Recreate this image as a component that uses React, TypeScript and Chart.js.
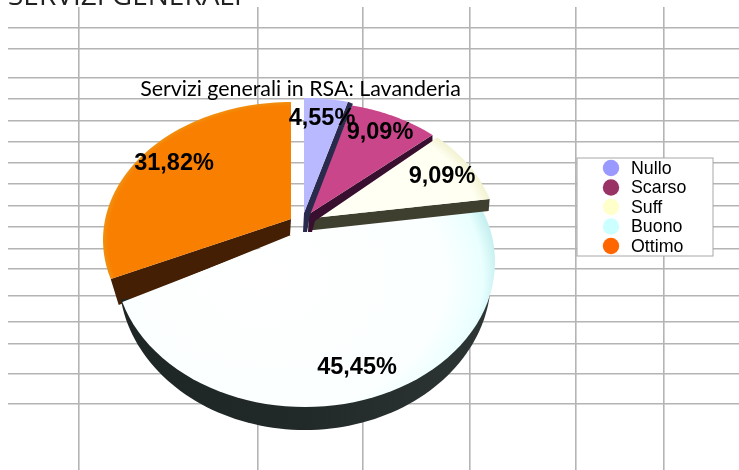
import React, { useEffect, useRef } from "react";
import { Chart, registerables } from "chart.js";

Chart.register(...registerables);

const pageHeading = "SERVIZI GENERALI";
const chartTitle = "Servizi generali in RSA: Lavanderia";
const categories = ["Nullo", "Scarso", "Suff", "Buono", "Ottimo"];
const shares = [4.55, 9.09, 9.09, 45.45, 31.82];
const legendColours = ["#9999ff", "#993366", "#ffffcc", "#ccffff", "#ff6600"];
const sheetRows = [28, 49, 78, 99, 121, 142, 163, 184, 206, 227, 249, 269, 296, 322, 344, 374, 404];
const sheetColumns = [79, 258, 363, 470, 576, 664];

type Look = {
  apex: [number, number]; centre: [number, number]; a: number; b: number; k: number;
  stops: [number, string][]; glow: [number, number, number]; wall: string | null; cut: "start" | "end";
  rimShift: [number, number]; notch: [number, number]; apexShift: [number, number]; label: [number, number];
};
const looks: Look[] = [
  { apex: [304, 213], centre: [304, 238], a: 190, b: 140, k: 0.745, stops: [[0, "#b9b9ff"], [1, "#b9b9ff"]], glow: [0, 0, 190], wall: "#2a2a4c", cut: "end", rimShift: [5, 2], notch: [6, 2], apexShift: [3, 19], label: [322, 117] },
  { apex: [309, 214], centre: [310, 240], a: 189, b: 138, k: 0.74, stops: [[0, "#c9468a"], [1, "#c9468a"]], glow: [0, 0, 189], wall: "#380f2e", cut: "end", rimShift: [0, 6], notch: [6, 7], apexShift: [3, 18], label: [380, 131] },
  { apex: [313, 218], centre: [308, 240], a: 190, b: 140, k: 0.75, stops: [[0, "#fffff6"], [0.93, "#fffff2"], [1, "#f2f2d2"]], glow: [0, 0, 190], wall: "#3f3f30", cut: "end", rimShift: [-1, 12], notch: [1, 12], apexShift: [3, 12], label: [442, 175] },
  { apex: [305, 231], centre: [305, 262], a: 190, b: 145, k: 0.85, stops: [[0, "#ffffff"], [0.78, "#fbffff"], [0.94, "#eaffff"], [1, "#c8f0f0"]], glow: [-40, 20, 232], wall: null, cut: "end", rimShift: [0, 0], notch: [0, 0], apexShift: [0, 0], label: [357, 366] },
  { apex: [291, 219], centre: [291, 240], a: 188, b: 138, k: 0.73, stops: [[0, "#f97f00"], [0.97, "#f97f00"], [1, "#f09010"]], glow: [0, 0, 188], wall: "#441f04", cut: "start", rimShift: [8, 26], notch: [0, 16], apexShift: [0, 16], label: [174, 162] },
];
const paintOrder = [4, 3, 2, 1, 0];
const bigWall = { centre: [305, 278], a: 186, b: 152, from: 4, to: 172 };

function rimPoint(l: Look, angle: number): [number, number] {
  const dx = Math.cos(angle), dy = l.k * Math.sin(angle);
  const ox = l.apex[0] - l.centre[0], oy = l.apex[1] - l.centre[1];
  const A = (dx * dx) / (l.a * l.a) + (dy * dy) / (l.b * l.b);
  const B = 2 * ((ox * dx) / (l.a * l.a) + (oy * dy) / (l.b * l.b));
  const C = (ox * ox) / (l.a * l.a) + (oy * oy) / (l.b * l.b) - 1;
  const t = (-B + Math.sqrt(B * B - 4 * A * C)) / (2 * A);
  return [l.apex[0] + t * dx, l.apex[1] + t * dy];
}

const piePlugin = {
  id: "tiltedPie",
  beforeDatasetDraw(chart: any) {
    const ctx = chart.ctx as CanvasRenderingContext2D;
    const arcs = chart.getDatasetMeta(0).data;
    paintOrder.forEach((i) => {
      const l = looks[i];
      const start = arcs[i].startAngle, end = arcs[i].endAngle;
      if (i === 3) {
        const g = ctx.createLinearGradient(120, 0, 490, 0);
        g.addColorStop(0, "#1e2625");
        g.addColorStop(0.5, "#222a29");
        g.addColorStop(1, "#2e3635");
        ctx.beginPath();
        for (let d = bigWall.from; d <= bigWall.to; d += 2) {
          const r = (d * Math.PI) / 180;
          ctx.lineTo(bigWall.centre[0] + bigWall.a * Math.cos(r), bigWall.centre[1] + bigWall.b * Math.sin(r));
        }
        ctx.closePath();
        ctx.fillStyle = g;
        ctx.fill();
      }
      if (l.wall) {
        const rim = rimPoint(l, l.cut === "start" ? start : end);
        ctx.beginPath();
        ctx.moveTo(l.apex[0], l.apex[1]);
        ctx.lineTo(rim[0], rim[1]);
        ctx.lineTo(rim[0] + l.rimShift[0], rim[1] + l.rimShift[1]);
        ctx.lineTo(l.apex[0] + l.notch[0], l.apex[1] + l.notch[1]);
        ctx.lineTo(l.apex[0] + l.apexShift[0], l.apex[1] + l.apexShift[1]);
        ctx.lineTo(l.apex[0] - 1, l.apex[1] + l.apexShift[1]);
        ctx.closePath();
        ctx.fillStyle = l.wall;
        ctx.fill();
      }
      ctx.save();
      ctx.beginPath();
      ctx.moveTo(l.apex[0], l.apex[1]);
      const steps = 60;
      for (let s = 0; s <= steps; s++) {
        const p = rimPoint(l, start + ((end - start) * s) / steps);
        ctx.lineTo(p[0], p[1]);
      }
      ctx.closePath();
      ctx.clip();
      ctx.translate(l.centre[0], l.centre[1]);
      ctx.scale(1, l.b / l.a);
      const g = ctx.createRadialGradient(l.glow[0], l.glow[1], 0, l.glow[0], l.glow[1], l.glow[2]);
      l.stops.forEach(([o, c]) => g.addColorStop(o, c));
      ctx.fillStyle = g;
      ctx.fillRect(-l.a - 5, -l.a - 5, 2 * l.a + 10, 2 * l.a + 10);
      ctx.restore();
    });
    return false;
  },
  afterDraw(chart: any) {
    const ctx = chart.ctx as CanvasRenderingContext2D;
    ctx.save();
    ctx.textBaseline = "alphabetic";
    ctx.textAlign = "left";
    ctx.fillStyle = "#222222";
    ctx.font = '28px "Open Sans"';
    ctx.fillText(pageHeading, 8, 5);
    ctx.fillStyle = "#000000";
    ctx.font = '21.4px Lato';
    ctx.textAlign = "center";
    ctx.fillText(chartTitle, 300.5, 96);

    ctx.font = 'bold 23.5px "Liberation Sans"';
    ctx.textBaseline = "middle";
    shares.forEach((v, i) => {
      ctx.fillText(v.toFixed(2).replace(".", ",") + "%", looks[i].label[0], looks[i].label[1] + 2);
    });

    ctx.fillStyle = "#ffffff";
    ctx.fillRect(577, 158, 136, 98);
    ctx.strokeStyle = "#a8a8a8";
    ctx.lineWidth = 1;
    ctx.strokeRect(577, 158, 136, 98);
    ctx.textAlign = "left";
    ctx.font = '17.8px "Liberation Sans"';
    categories.forEach((name, i) => {
      const y = 168 + i * 19.5;
      ctx.beginPath();
      ctx.arc(611, y, 8.2, 0, Math.PI * 2);
      ctx.fillStyle = legendColours[i];
      ctx.fill();
      ctx.fillStyle = "#000000";
      ctx.fillText(name, 631, y + 1);
    });
    ctx.restore();
  },
};

const fixedTicks = (values: number[]) => (axis: any) => {
  axis.ticks = values.map((value) => ({ value }));
};

export default function App() {
  const ref = useRef<HTMLCanvasElement>(null);
  useEffect(() => {
    const gridStyle = { color: "#b4b4b4", lineWidth: 1.6, drawTicks: false };
    const chart = new Chart(ref.current as HTMLCanvasElement, {
      type: "pie",
      data: {
        labels: categories,
        datasets: [{ data: shares, backgroundColor: legendColours }],
      },
      options: {
        responsive: false,
        animation: false,
        devicePixelRatio: 1,
        events: [],
        layout: { padding: { left: 8, top: 7, right: 0, bottom: 0 } },
        plugins: { legend: { display: false }, tooltip: { enabled: false } },
        scales: {
          x: {
            type: "linear", min: 8, max: 739, position: "bottom",
            grid: gridStyle, border: { display: false }, ticks: { display: false },
            afterBuildTicks: fixedTicks(sheetColumns),
          },
          y: {
            type: "linear", min: 7, max: 470, reverse: true, position: "left",
            grid: gridStyle, border: { display: false }, ticks: { display: false },
            afterBuildTicks: fixedTicks(sheetRows),
          },
        },
      } as any,
      plugins: [piePlugin as any],
    });
    return () => chart.destroy();
  }, []);
  return (
    <canvas
      ref={ref}
      width={739}
      height={470}
      style={{ position: "absolute", left: 0, top: 0, display: "block" }}
    />
  );
}
